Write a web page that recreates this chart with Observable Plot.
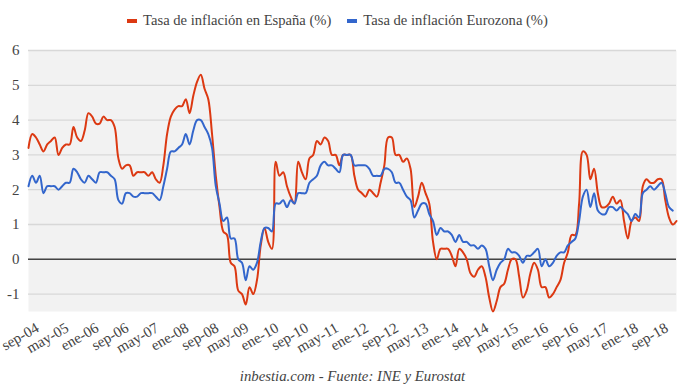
<!DOCTYPE html>
<html>
<head>
<meta charset="utf-8">
<script src="https://cdn.jsdelivr.net/npm/d3@7"></script>
<script src="https://cdn.jsdelivr.net/npm/@observablehq/plot@0.6"></script>
<style>
  body { margin: 0; background: #fff; }
  #wrap { position: relative; width: 680px; height: 390px; font-family: "Liberation Serif", "Times New Roman", serif; color: #444; }
  #legend { position: absolute; top: 12px; left: 0; width: 675px; text-align: center; font-size: 14.6px; white-space: nowrap; }
  #legend .item { display: inline-block; margin: 0 8px; }
  #legend .sw { display: inline-block; width: 10px; height: 4px; margin-right: 6px; vertical-align: middle; position: relative; top: -1px; }
  #caption { position: absolute; top: 368px; left: 28px; width: 649px; text-align: center; font-size: 14.8px; font-style: italic; }
  #chart { position: absolute; top: 0; left: 0; }
</style>
</head>
<body>
<div id="wrap">
  <div id="chart"></div>
  <div id="legend"></div>
  <div id="caption">inbestia.com - Fuente: INE y Eurostat</div>
</div>
<script>
// Monthly series, sep-04 .. feb-19
const seriesNames = ["Tasa de inflación en España (%)", "Tasa de inflación Eurozona (%)"];
const seriesColors = ["#dc3912", "#3366cc"];

const espana = [
  3.2, 3.6, 3.5, 3.3,
  3.1, 3.3, 3.4, 3.5, 3.0, 3.2, 3.3, 3.3, 3.8, 3.5, 3.4, 3.7,
  4.2, 4.1, 3.9, 3.9, 4.1, 4.0, 4.0, 3.8, 2.9, 2.6, 2.7, 2.7,
  2.4, 2.5, 2.5, 2.5, 2.4, 2.5, 2.3, 2.2, 2.7, 3.6, 4.1, 4.3,
  4.4, 4.4, 4.6, 4.2, 4.7, 5.1, 5.3, 4.9, 4.6, 3.6, 2.4, 1.5,
  0.8, 0.7, -0.1, -0.2, -0.9, -1.0, -1.3, -0.8, -1.0, -0.6, 0.4, 0.9,
  0.5, 0.3, 2.8, 2.4, 2.5, 2.1, 1.8, 1.6, 2.8, 2.5, 2.3, 2.9,
  3.0, 3.4, 3.3, 3.5, 3.4, 3.0, 3.0, 2.7, 3.0, 3.0, 3.0, 2.4,
  2.0, 1.9, 1.8, 2.0, 1.9, 1.8, 2.2, 2.7, 3.5, 3.5, 3.0, 3.0,
  2.8, 2.9, 2.6, 1.5, 1.8, 2.2, 1.9, 1.6, 0.5, 0.0, 0.3, 0.3,
  0.3, 0.1, -0.2, 0.3, 0.2, 0.0, -0.4, -0.5, -0.3, -0.2, -0.5, -1.1,
  -1.5, -1.2, -0.8, -0.7, -0.3, 0.0, 0.0, -0.5, -1.1, -0.9, -0.4, -0.1,
  -0.3, -0.8, -0.8, -1.1, -1.0, -0.8, -0.6, -0.1, 0.2, 0.7, 0.7, 1.6,
  3.1, 3.0, 2.3, 2.6, 1.9, 1.5, 1.5, 1.6, 1.8, 1.6, 1.7, 1.1,
  0.6, 1.1, 1.2, 1.1, 2.1, 2.3, 2.2, 2.2, 2.3, 2.3, 1.7, 1.2,
  1.0, 1.1
];

const eurozona = [
  2.1, 2.4, 2.2, 2.4,
  1.9, 2.1, 2.1, 2.1, 2.0, 2.1, 2.2, 2.2, 2.6, 2.5, 2.3, 2.2,
  2.4, 2.3, 2.2, 2.5, 2.5, 2.5, 2.4, 2.3, 1.7, 1.6, 1.9, 1.9,
  1.8, 1.8, 1.9, 1.9, 1.9, 1.9, 1.8, 1.7, 2.1, 2.6, 3.1, 3.1,
  3.2, 3.3, 3.6, 3.3, 3.7, 4.0, 4.0, 3.8, 3.6, 3.2, 2.1, 1.6,
  1.1, 1.2, 0.6, 0.6, 0.0, -0.1, -0.6, -0.2, -0.3, -0.1, 0.5, 0.9,
  0.9, 0.8, 1.6, 1.6, 1.7, 1.5, 1.7, 1.6, 1.9, 1.9, 1.9, 2.2,
  2.3, 2.4, 2.7, 2.8, 2.7, 2.7, 2.6, 2.5, 3.0, 3.0, 3.0, 2.7,
  2.7, 2.7, 2.7, 2.6, 2.4, 2.4, 2.4, 2.6, 2.6, 2.5, 2.2, 2.2,
  2.0, 1.8, 1.7, 1.2, 1.4, 1.6, 1.6, 1.3, 1.1, 0.7, 0.9, 0.8,
  0.8, 0.7, 0.5, 0.7, 0.5, 0.5, 0.4, 0.4, 0.3, 0.4, 0.3, -0.2,
  -0.6, -0.3, -0.1, 0.0, 0.3, 0.2, 0.2, 0.1, -0.1, 0.1, 0.1, 0.2,
  0.3, -0.2, 0.0, -0.2, -0.1, 0.1, 0.2, 0.2, 0.4, 0.5, 0.6, 1.1,
  1.8, 2.0, 1.5, 1.9, 1.4, 1.3, 1.3, 1.5, 1.5, 1.4, 1.5, 1.4,
  1.3, 1.1, 1.3, 1.2, 1.9, 2.0, 2.1, 2.0, 2.1, 2.2, 1.9, 1.5,
  1.4, null
];

// x tick labels, one every 8 months starting at sep-04
const tickLabels = ["sep-04","may-05","ene-06","sep-06","may-07","ene-08","sep-08","may-09",
  "ene-10","sep-10","may-11","ene-12","sep-12","may-13","ene-14","sep-14","may-15","ene-16",
  "sep-16","may-17","ene-18","sep-18"];
const tickStep = 8;
const yTicks = [-1, 0, 1, 2, 3, 4, 5, 6];

const rows = [];
espana.forEach((v, i) => rows.push({i, serie: seriesNames[0], v}));
eurozona.forEach((v, i) => { if (v !== null) rows.push({i, serie: seriesNames[1], v}); });

const tickIdx = tickLabels.map((_, k) => k * tickStep);

const chart = Plot.plot({
  width: 680,
  height: 390,
  marginTop: 50,
  marginBottom: 79,
  marginLeft: 28,
  marginRight: 4,
  style: { fontFamily: "'Liberation Serif', serif", fontSize: "15px", color: "#444", background: "transparent", overflow: "visible" },
  x: { domain: [0, espana.length - 1] },
  y: { domain: [-1.5, 6] },
  color: { domain: seriesNames, range: seriesColors },
  marks: [
    Plot.frame({ fill: "#f2f2f2", stroke: "none" }),
    Plot.ruleY(yTicks, { stroke: "#d8d8d8", strokeWidth: 1.3 }),
    Plot.ruleY([0], { stroke: "#444", strokeWidth: 1.6 }),
    Plot.line(rows, { x: "i", y: "v", z: "serie", stroke: "serie", strokeWidth: 2, curve: "catmull-rom" }),
    Plot.axisY({ ticks: yTicks, tickSize: 0, tickPadding: 9, fontSize: 15, label: null, tickFormat: d => String(d) }),
    Plot.axisX({ ticks: tickIdx, tickFormat: i => tickLabels[i / tickStep], tickRotate: -30, tickSize: 0, tickPadding: 6, dx: 9, dy: 9, fontSize: 15, label: null })
  ]
});
document.getElementById("chart").appendChild(chart);

const legend = document.getElementById("legend");
seriesNames.forEach((name, k) => {
  const item = document.createElement("span");
  item.className = "item";
  const sw = document.createElement("span");
  sw.className = "sw";
  sw.style.background = seriesColors[k];
  item.appendChild(sw);
  item.appendChild(document.createTextNode(name));
  legend.appendChild(item);
});
</script>
</body>
</html>
